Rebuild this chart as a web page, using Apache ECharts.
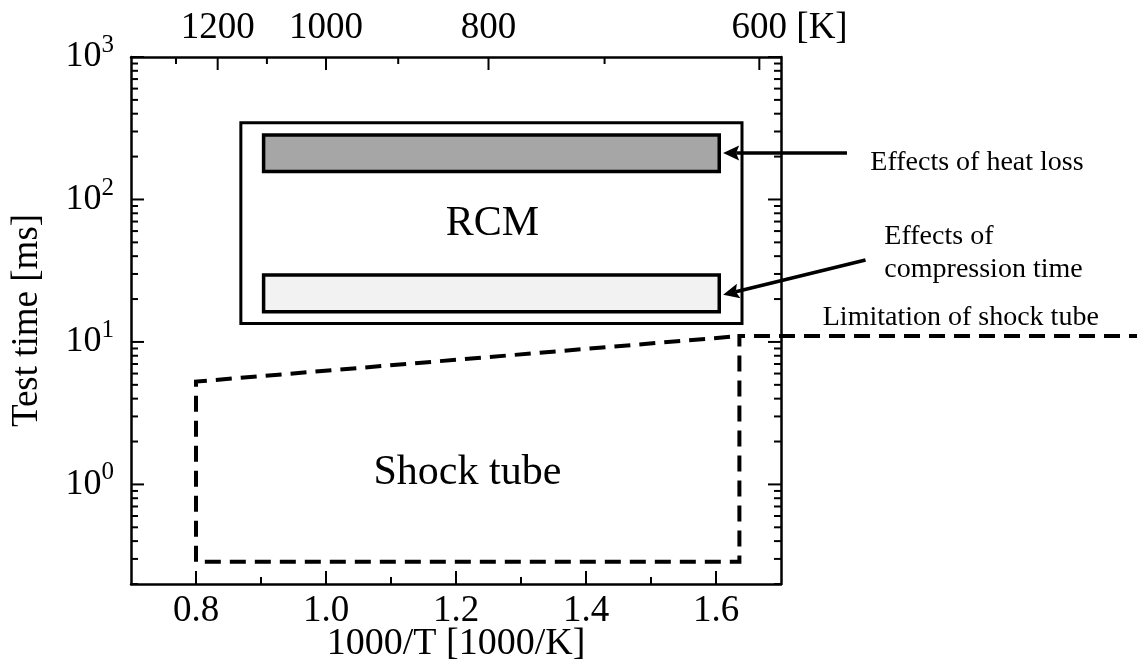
<!DOCTYPE html>
<html>
<head>
<meta charset="utf-8">
<script src="https://cdn.jsdelivr.net/npm/echarts@6/dist/echarts.min.js"></script>
<style>
  html, body { margin: 0; padding: 0; background: #fff; }
  #chart { width: 1137px; height: 671px; }
</style>
</head>
<body>
<div id="chart"></div>
<script>
const FONT = '"Liberation Serif", "Times New Roman", Times, serif';

// Axis ranges: 1000/T on x, test time (ms, log) on y
const xRange = [0.7, 1.7];
const yRange = [0.2, 1000];

// Tick positions
const xLabelTicks = [0.8, 1.0, 1.2, 1.4, 1.6];
const xMinorTicks = [0.9, 1.1, 1.3, 1.5];
const topLabelKelvin = [1200, 1000, 800, 600];
const topMinorKelvin = [1300, 1100, 900, 700];
const yDecadeTicks = [1, 10, 100, 1000];
const yMinorTicks = [0.2, 0.3, 0.4, 0.5, 0.6, 0.7, 0.8, 0.9,
                     2, 3, 4, 5, 6, 7, 8, 9,
                     20, 30, 40, 50, 60, 70, 80, 90,
                     200, 300, 400, 500, 600, 700, 800, 900];

// RCM operating window and its two sub-bands: [1000/T from, to], [time from, to] (ms)
const rcmX = [0.869, 1.640];
const rcmY = [13.5, 345];
const heatLossX = [0.904, 1.605];
const heatLossY = [157, 284];
const compressionX = [0.904, 1.605];
const compressionY = [16.3, 29.5];

// Shock tube window, continuing as the limit line to the right
const shockTubeX = [2.26, 1.636, 1.636, 0.8, 0.8, 1.636];
const shockTubeY = [11, 11, 0.286, 0.286, 5.27, 11];

// Arrows: [tail x, tail y, head x, head y]
const heatLossArrow = [1.8015, 211.5, 1.611, 211.5];
const compressionArrow = [1.830, 37.6, 1.611, 21.4];

// Text annotations anchored in data coordinates
const annotations = [
  { text: 'RCM', x: 1.256, y: 67.4, size: 42, align: 'center' },
  { text: 'Shock tube', x: 1.2175, y: 1.21, size: 42, align: 'center' },
  { text: 'Effects of heat loss', x: 1.8374, y: 180.8, size: 28, align: 'left' },
  { text: 'Effects of\ncompression time', x: 1.859, y: 41.7, size: 28, align: 'left' },
  { text: 'Limitation of shock tube', x: 1.9766, y: 14.9, size: 28, align: 'center' }
];

const near = (v, list) => list.some(t => Math.abs(t - v) < 1e-6 * Math.max(1, Math.abs(t)));

function tickSeries(values, side, len) {
  return {
    type: 'custom',
    silent: true,
    z: 6,
    data: values.map(v => [v, v]),
    renderItem(params, api) {
      const cs = params.coordSys;
      const v = api.value(0);
      let shape;
      if (side === 'bottom' || side === 'top') {
        const px = api.coord([v, yRange[1]])[0];
        const y0 = side === 'bottom' ? cs.y + cs.height : cs.y;
        shape = { x1: px, y1: y0, x2: px, y2: side === 'bottom' ? y0 - len : y0 + len };
      } else {
        const py = api.coord([xRange[0], v])[1];
        const x0 = side === 'left' ? cs.x : cs.x + cs.width;
        shape = { x1: x0, y1: py, x2: side === 'left' ? x0 + len : x0 - len, y2: py };
      }
      return { type: 'line', shape, style: { stroke: '#000', lineWidth: 2 } };
    }
  };
}

function boxSeries(xs, ys, fill, lineWidth) {
  return {
    type: 'custom',
    silent: true,
    z: 3,
    data: [[xs[0], ys[0], xs[1], ys[1]]],
    renderItem(params, api) {
      const p0 = api.coord([api.value(0), api.value(1)]);
      const p1 = api.coord([api.value(2), api.value(3)]);
      return {
        type: 'rect',
        shape: {
          x: Math.min(p0[0], p1[0]), y: Math.min(p0[1], p1[1]),
          width: Math.abs(p1[0] - p0[0]), height: Math.abs(p1[1] - p0[1])
        },
        style: { fill, stroke: '#000', lineWidth }
      };
    }
  };
}

function arrowSeries(a) {
  return {
    type: 'custom',
    silent: true,
    z: 4,
    data: [a],
    renderItem(params, api) {
      const p0 = api.coord([api.value(0), api.value(1)]);
      const p1 = api.coord([api.value(2), api.value(3)]);
      const dx = p1[0] - p0[0], dy = p1[1] - p0[1];
      const L = Math.hypot(dx, dy);
      const ux = dx / L, uy = dy / L, nx = -uy, ny = ux;
      const headLen = 16, headHalf = 7.5, notch = 3;
      const bx = p1[0] - ux * headLen, by = p1[1] - uy * headLen;
      return {
        type: 'group',
        children: [
          { type: 'line', shape: { x1: p0[0], y1: p0[1], x2: bx + ux * notch, y2: by + uy * notch },
            style: { stroke: '#000', lineWidth: 3.5 } },
          { type: 'polygon', shape: { points: [
              [p1[0], p1[1]],
              [bx + nx * headHalf, by + ny * headHalf],
              [bx + ux * notch, by + uy * notch],
              [bx - nx * headHalf, by - ny * headHalf]
            ] }, style: { fill: '#000' } }
        ]
      };
    }
  };
}

const chart = echarts.init(document.getElementById('chart'), null, { renderer: 'canvas' });

const axisLine = { show: true, lineStyle: { color: '#000', width: 2.5 } };

chart.setOption({
  animation: false,
  backgroundColor: '#fff',
  grid: { left: 131, right: 356, top: 57, bottom: 87, containLabel: false },
  xAxis: [
    {
      type: 'value', position: 'bottom', min: xRange[0], max: xRange[1], interval: 0.1,
      axisLine, axisTick: { show: false }, splitLine: { show: false },
      axisLabel: {
        margin: 9, color: '#000', fontFamily: FONT, fontSize: 37,
        formatter: v => near(v, xLabelTicks) ? v.toFixed(1) : ''
      },
      name: '1000/T [1000/K]', nameLocation: 'middle', nameGap: 41, nameMoveOverlap: false,
      nameTextStyle: { color: '#000', fontFamily: FONT, fontSize: 38 }
    },
    {
      type: 'value', position: 'top', min: xRange[0], max: xRange[1],
      axisLine, axisTick: { show: false }, axisLabel: { show: false }, splitLine: { show: false }
    }
  ],
  yAxis: [
    {
      type: 'log', logBase: 10, position: 'left', min: yRange[0], max: yRange[1],
      axisLine, axisTick: { show: false }, splitLine: { show: false }, minorTick: { show: false },
      axisLabel: {
        margin: 17, color: '#000',
        formatter: v => {
          const e = Math.round(Math.log10(v));
          return near(v, yDecadeTicks) ? '{b|10}{s|' + e + '}' : '';
        },
        rich: {
          b: { fontFamily: FONT, fontSize: 36, color: '#000', lineHeight: 48 },
          s: { fontFamily: FONT, fontSize: 25, color: '#000', lineHeight: 22, verticalAlign: 'top' }
        }
      },
      name: 'Test time [ms]', nameLocation: 'middle', nameGap: 85, nameMoveOverlap: false,
      nameTextStyle: { color: '#000', fontFamily: FONT, fontSize: 37 }
    },
    {
      type: 'log', logBase: 10, position: 'right', min: yRange[0], max: yRange[1],
      axisLine, axisTick: { show: false }, axisLabel: { show: false }, splitLine: { show: false }
    }
  ],
  series: [
    // RCM window and bands
    boxSeries(rcmX, rcmY, 'rgba(0,0,0,0)', 3),
    boxSeries(heatLossX, heatLossY, '#a6a6a6', 3.5),
    boxSeries(compressionX, compressionY, '#f2f2f2', 3.5),

    // Shock tube window + limitation line (runs past the plot frame to the right)
    {
      type: 'custom', silent: true, z: 3,
      data: shockTubeX.map((x, i) => [x, shockTubeY[i]]),
      renderItem(params, api) {
        if (params.dataIndex !== 0) return null;
        const pts = shockTubeX.map((x, i) => api.coord([x, shockTubeY[i]]));
        return {
          type: 'polyline',
          shape: { points: pts },
          style: { fill: null, stroke: '#000', lineWidth: 4, lineDash: [16, 9], lineCap: 'butt', lineJoin: 'miter' }
        };
      }
    },

    arrowSeries(heatLossArrow),
    arrowSeries(compressionArrow),

    // Annotation text
    {
      type: 'custom', silent: true, z: 5,
      data: annotations.map(a => [a.x, a.y]),
      renderItem(params, api) {
        const a = annotations[params.dataIndex];
        const p = api.coord([api.value(0), api.value(1)]);
        return {
          type: 'text', x: p[0], y: p[1],
          style: {
            text: a.text, fill: '#000', fontFamily: FONT, fontSize: a.size,
            lineHeight: 33, align: a.align, verticalAlign: 'middle'
          }
        };
      }
    },

    // Axis ticks (inward, mirrored on opposite sides for y)
    tickSeries(xLabelTicks, 'bottom', 13),
    tickSeries(xMinorTicks, 'bottom', 7),
    tickSeries(topLabelKelvin.map(k => 1000 / k), 'top', 13),
    tickSeries(topMinorKelvin.map(k => 1000 / k), 'top', 7),
    tickSeries(yDecadeTicks, 'left', 13),
    tickSeries(yMinorTicks, 'left', 7),
    tickSeries(yDecadeTicks, 'right', 13),
    tickSeries(yMinorTicks, 'right', 7),

    // Temperature labels along the top axis
    {
      type: 'custom', silent: true, z: 6,
      data: topLabelKelvin.map(k => [1000 / k, 1000 / k]),
      renderItem(params, api) {
        const cs = params.coordSys;
        const i = params.dataIndex;
        const px = api.coord([api.value(0), yRange[1]])[0];
        const y = cs.y - 29;
        const children = [{
          type: 'text', x: px, y,
          style: { text: String(topLabelKelvin[i]), fill: '#000', fontFamily: FONT, fontSize: 37,
                   align: 'center', verticalAlign: 'middle' }
        }];
        if (i === topLabelKelvin.length - 1) {
          children.push({
            type: 'text', x: px + 37, y,
            style: { text: '[K]', fill: '#000', fontFamily: FONT, fontSize: 37,
                     align: 'left', verticalAlign: 'middle' }
          });
        }
        return { type: 'group', children };
      }
    }
  ]
});
</script>
</body>
</html>
